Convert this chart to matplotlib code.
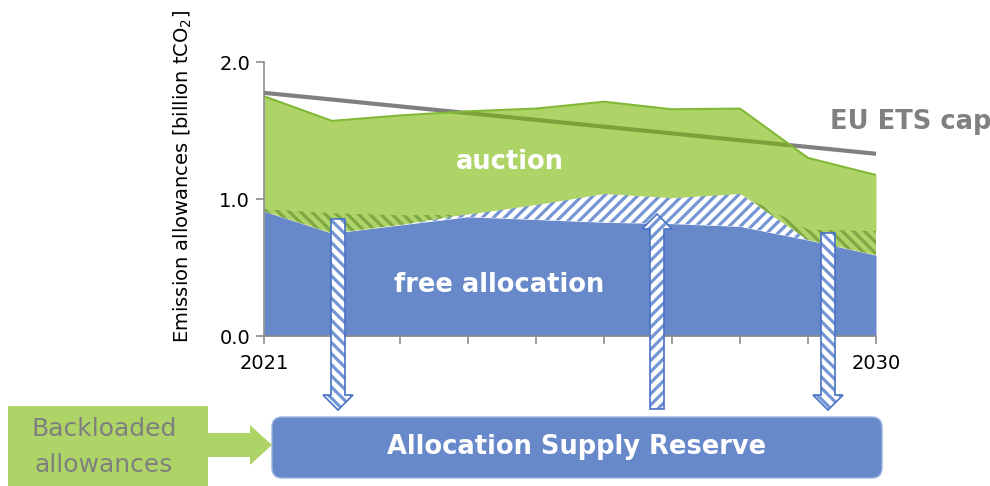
import numpy as np
import matplotlib
matplotlib.use("Agg")
import matplotlib.pyplot as plt
from matplotlib.patches import Polygon, Rectangle, FancyBboxPatch

plt.rcParams["font.family"] = ["DejaVu Sans"]
plt.rcParams["hatch.linewidth"] = 2.3

# ---------------------------------------------------------------------
# Data (billion tCO2)
# ---------------------------------------------------------------------
years = [2021, 2022, 2023, 2024, 2025, 2026, 2027, 2028, 2029, 2030]
free_alloc = [0.91, 0.75, 0.81, 0.87, 0.85, 0.83, 0.82, 0.80, 0.70, 0.59]
reserve_release = [0.00, 0.00, 0.00, 0.02, 0.11, 0.21, 0.19, 0.24, 0.00, 0.00]
reserve_intake = [0.02, 0.15, 0.075, 0.00, 0.00, 0.00, 0.00, 0.00, 0.08, 0.18]
auction = [0.82, 0.67, 0.725, 0.75, 0.70, 0.67, 0.645, 0.62, 0.52, 0.405]
ets_cap = [1.775, 1.726, 1.676, 1.627, 1.578, 1.528, 1.479, 1.429, 1.380, 1.330]

y_ticks = [0.0, 1.0, 2.0]
x_labels = ["2021", "", "", "", "", "", "", "", "", "2030"]

BLUE = "#6788C9"
GREEN = "#AED468"
GREEN_EDGE = "#82B836"
GREEN_HATCH = "#7FA845"
BLUE_HATCH = "#7496D4"
ARROW_EDGE = "#4A72C4"
GRAY = "#808080"
AXIS_GRAY = "#8C8C8C"

W, H = 990, 486


def px(x, y):
    """pixel position (top-left origin) -> inches for fig.dpi_scale_trans"""
    return (x / 100, (H - y) / 100)


def arrow_pts(cx, y_tail, y_tip, shaft=14, head=30, head_len=15):
    d = 1 if y_tip > y_tail else -1
    hb = y_tip - d * head_len
    pts = [(cx - shaft / 2, y_tail), (cx + shaft / 2, y_tail), (cx + shaft / 2, hb),
           (cx + head / 2, hb), (cx, y_tip), (cx - head / 2, hb), (cx - shaft / 2, hb)]
    return [px(x, y) for x, y in pts]


fig = plt.figure(figsize=(9.9, 4.86), dpi=100)
ax = fig.add_axes([264 / W, (H - 336) / H, 612 / W, 274 / H])

free = np.array(free_alloc)
top_release = free + np.array(reserve_release)
top_intake = top_release + np.array(reserve_intake)
total = top_intake + np.array(auction)

# --- cap line (behind the areas) ---
ax.plot(years, ets_cap, color=GRAY, lw=3, zorder=1, solid_capstyle="round")

# --- stacked areas ---
ax.fill_between(years, 0, free, color=BLUE, lw=0, zorder=2)
ax.fill_between(years, free, top_release, facecolor="white", edgecolor=BLUE_HATCH,
                hatch="///", lw=0, zorder=2)
ax.fill_between(years, top_release, top_intake, facecolor=GREEN, edgecolor=GREEN_HATCH,
                hatch="\\\\\\", lw=0, zorder=2)
auc = ax.fill_between(years, top_intake, total, color=GREEN, lw=0, zorder=2)

# cap line seen through the auction area
dark, = ax.plot(years, ets_cap, color="#7BA33B", lw=3, zorder=2.5)
dark.set_clip_path(auc.get_paths()[0], transform=ax.transData)

ax.plot(years, total, color=GREEN_EDGE, lw=1.5, zorder=3)

# --- axes styling ---
ax.set_xlim(2021, 2030)
ax.set_ylim(0, 2.0)
ax.set_xticks(years)
ax.set_xticklabels(x_labels)
ax.set_yticks(y_ticks)
ax.set_yticklabels([f"{v:.1f}" for v in y_ticks])
for s in ["top", "right"]:
    ax.spines[s].set_visible(False)
for s in ["left", "bottom"]:
    ax.spines[s].set_color(AXIS_GRAY)
    ax.spines[s].set_linewidth(1.2)
    ax.spines[s].set_zorder(4)
ax.tick_params(axis="both", color=AXIS_GRAY, length=6, width=1.2, labelsize=14)
ax.tick_params(axis="x", pad=7)
ax.tick_params(axis="y", pad=4)

# --- labels ---
ax.text(2024.62, 1.27, "auction", color="white", fontsize=18.5, fontweight="bold",
        ha="center", va="center", zorder=5)
ax.text(2024.46, 0.372, "free allocation", color="white", fontsize=18.5, fontweight="bold",
        ha="center", va="center", zorder=5)
ax.text(2029.32, 1.56, "EU ETS cap", color=GRAY, fontsize=18.5, fontweight="bold",
        ha="left", va="center", clip_on=False)
fig.text(*px(183, 176), "Emission allowances [billion tCO$_2$]", transform=fig.dpi_scale_trans,
         rotation=90, fontsize=14, ha="center", va="center")

# --- reserve arrows ---
for cx, y_tail, y_tip, hatch in [(338, 219, 410, "\\\\\\"), (657, 409, 214, "///"),
                                 (828, 233, 410, "\\\\\\")]:
    pts = arrow_pts(cx, y_tail, y_tip)
    fig.add_artist(Polygon(pts, closed=True, transform=fig.dpi_scale_trans, facecolor="white",
                           edgecolor=BLUE_HATCH, hatch=hatch, lw=0, zorder=10))
    fig.add_artist(Polygon(pts, closed=True, transform=fig.dpi_scale_trans, fill=False,
                           edgecolor=ARROW_EDGE, lw=1.2, zorder=11))

# --- bottom boxes ---
fig.add_artist(FancyBboxPatch(px(272, 478), 6.10, 0.61, boxstyle="round,pad=0,rounding_size=0.1",
                              transform=fig.dpi_scale_trans, facecolor=BLUE,
                              edgecolor="#9DB3E0", lw=1, zorder=8))
fig.text(*px(577, 447), "Allocation Supply Reserve", transform=fig.dpi_scale_trans,
         color="white", fontsize=18.5, fontweight="bold", ha="center", va="center", zorder=9)

fig.add_artist(Rectangle(px(8, 486), 2.0, 0.80, transform=fig.dpi_scale_trans,
                         facecolor=GREEN, lw=0, zorder=8))
fig.text(*px(104, 447), "Backloaded\nallowances", transform=fig.dpi_scale_trans,
         color="#7F7F7F", fontsize=18, ha="center", va="center", linespacing=1.65, zorder=9)
green_arrow = [(207, 433), (250, 433), (250, 425), (272, 445), (250, 465), (250, 457), (207, 457)]
fig.add_artist(Polygon([px(x, y) for x, y in green_arrow], closed=True,
                       transform=fig.dpi_scale_trans, facecolor=GREEN, lw=0, zorder=8))

fig.savefig("out.png", dpi=100)
